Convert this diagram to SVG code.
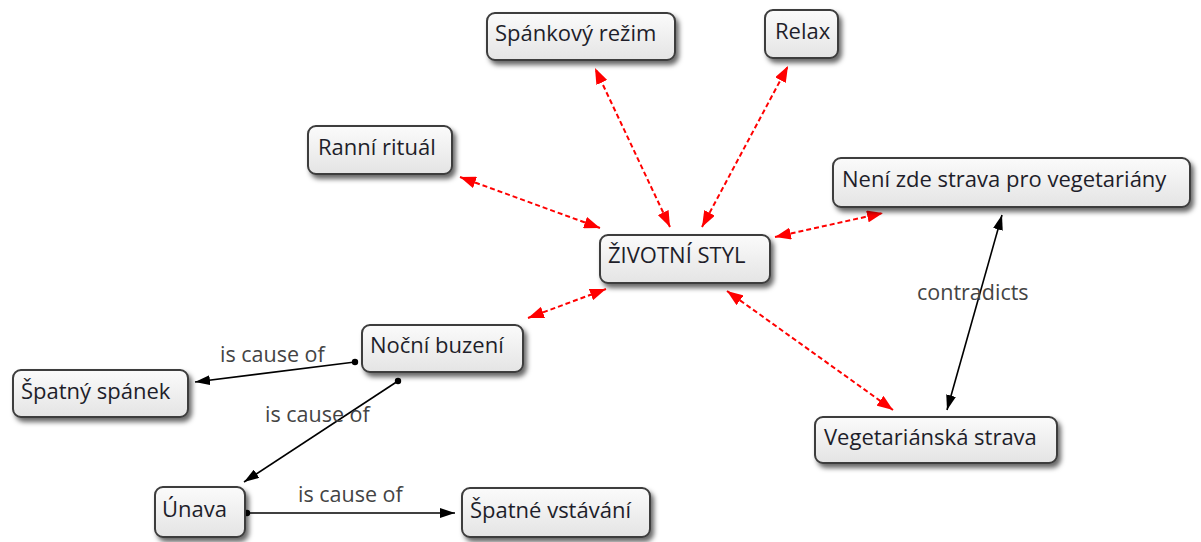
<svg xmlns="http://www.w3.org/2000/svg" width="1201" height="542" viewBox="0 0 1201 542">
  <defs>
    <linearGradient id="nodeFill" x1="0" y1="0" x2="0" y2="1">
      <stop offset="0" stop-color="#fbfbfb"/>
      <stop offset="1" stop-color="#e4e4e4"/>
    </linearGradient>
    <filter id="shadow" x="-10%" y="-20%" width="130%" height="160%">
      <feDropShadow dx="3" dy="4" stdDeviation="2.5" flood-color="#000" flood-opacity="0.6"/>
    </filter>
    <marker id="redHead" viewBox="0 0 16 12" refX="16" refY="6" markerWidth="16" markerHeight="12" markerUnits="userSpaceOnUse" orient="auto-start-reverse">
      <path d="M0,0 L16,6 L0,12 Z" fill="#ff0000"/>
    </marker>
    <marker id="blackHead" viewBox="0 0 15 10" refX="15" refY="5" markerWidth="15" markerHeight="10" markerUnits="userSpaceOnUse" orient="auto-start-reverse">
      <path d="M0,0 L15,5 L0,10 Z" fill="#000"/>
    </marker>
    <marker id="dot" viewBox="0 0 8 8" refX="4" refY="4" markerWidth="8" markerHeight="8" markerUnits="userSpaceOnUse">
      <circle cx="4" cy="4" r="3.2" fill="#000"/>
    </marker>
  </defs>
  <style>
    .node rect { fill: url(#nodeFill); stroke: #3c3c3c; stroke-width: 2; filter: url(#shadow); }
    .node text { font-family: "Open Sans", "Noto Sans", sans-serif; font-size: 22px; fill: #1e1e2a; }
    .assoc { stroke: #ff0000; stroke-width: 2; stroke-dasharray: 5 3; fill: none; marker-start: url(#redHead); marker-end: url(#redHead); }
    .cause { stroke: #000; stroke-width: 1.6; fill: none; marker-start: url(#dot); marker-end: url(#blackHead); }
    .both { stroke: #000; stroke-width: 1.6; fill: none; marker-start: url(#blackHead); marker-end: url(#blackHead); }
    .label { font-family: "Open Sans", "Noto Sans", sans-serif; font-size: 21.5px; fill: #444; }
  </style>

  <g id="connectors">
    <line class="assoc" x1="670" y1="227" x2="595" y2="68"/>
    <line class="assoc" x1="702" y1="227" x2="788" y2="66"/>
    <line class="assoc" x1="600" y1="228" x2="460" y2="177"/>
    <line class="assoc" x1="775" y1="237" x2="883" y2="213"/>
    <line class="assoc" x1="528" y1="318" x2="606" y2="289"/>
    <line class="assoc" x1="727" y1="291" x2="893" y2="410"/>
    <line class="cause" x1="355" y1="362" x2="195" y2="382"/>
    <line class="cause" x1="398" y1="381" x2="244" y2="482"/>
    <line class="cause" x1="247" y1="513" x2="455" y2="513"/>
    <line class="both" x1="1002" y1="215" x2="947" y2="410"/>
    <text class="label" x="220" y="362">is cause of</text>
    <text class="label" x="265" y="422">is cause of</text>
    <text class="label" x="298" y="502">is cause of</text>
    <text class="label" x="917" y="300">contradicts</text>
  </g>

  <g id="node-spankovy-rezim" class="node">
    <rect x="487" y="13" width="188" height="47" rx="8"/>
    <text x="495" y="41">Spánkový režim</text>
  </g>
  <g id="node-relax" class="node">
    <rect x="765" y="10" width="73" height="48" rx="8"/>
    <text x="775" y="39">Relax</text>
  </g>
  <g id="node-ranni-ritual" class="node">
    <rect x="308" y="126" width="144" height="48" rx="8"/>
    <text x="318" y="155">Ranní rituál</text>
  </g>
  <g id="node-zivotni-styl" class="node">
    <rect x="600" y="235" width="170" height="48" rx="8"/>
    <text x="608" y="263">ŽIVOTNÍ STYL</text>
  </g>
  <g id="node-neni-zde-strava" class="node">
    <rect x="833" y="158" width="357" height="49" rx="8"/>
    <text x="842" y="187">Není zde strava pro vegetariány</text>
  </g>
  <g id="node-nocni-buzeni" class="node">
    <rect x="362" y="325" width="161" height="47" rx="8"/>
    <text x="370" y="353">Noční buzení</text>
  </g>
  <g id="node-spatny-spanek" class="node">
    <rect x="13" y="370" width="175" height="47" rx="8"/>
    <text x="21" y="399">Špatný spánek</text>
  </g>
  <g id="node-unava" class="node">
    <rect x="155" y="487" width="90" height="50" rx="8"/>
    <text x="162" y="517">Únava</text>
  </g>
  <g id="node-spatne-vstavani" class="node">
    <rect x="462" y="488" width="188" height="49" rx="8"/>
    <text x="470" y="518">Špatné vstávání</text>
  </g>
  <g id="node-vegetarianska-strava" class="node">
    <rect x="815" y="417" width="242" height="46" rx="8"/>
    <text x="824" y="445">Vegetariánská strava</text>
  </g>
</svg>
